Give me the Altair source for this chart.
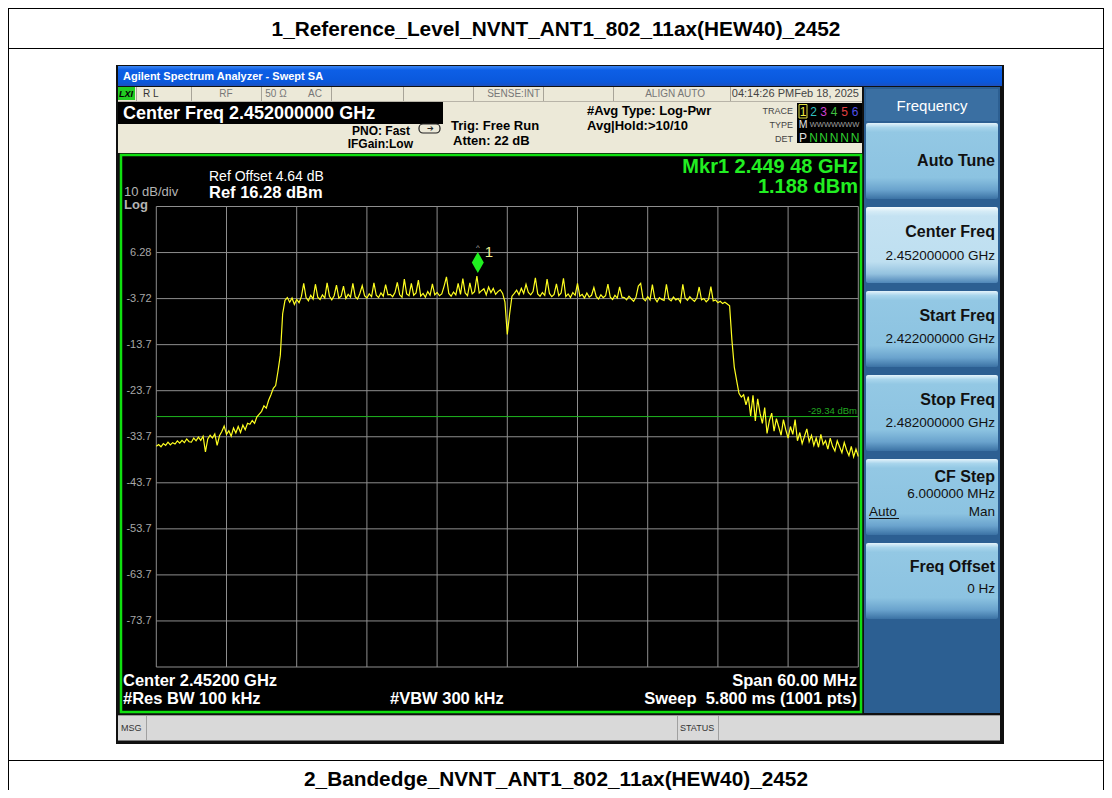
import altair as alt
import pandas as pd

OFF = 8  # page margin
SANS = "Liberation Sans, Arial, Helvetica, sans-serif"

# ---------------- data ----------------
F_START_GHZ = 2.422
F_STEP_GHZ = 0.0002   # sweep-point spacing used for the hand-read trace
level_dbm = [
    -35.8, -35.4, -35.9, -35.2, -35.6, -34.9, -35.5, -35.0, -35.3, -34.6,
    -35.1, -34.5, -35.0, -34.2, -34.8, -34.9, -34.0, -34.6, -33.8, -34.5,
    -33.6, -37.0, -34.2, -33.4, -34.0, -33.1, -35.6, -33.5, -32.6, -31.4,
    -33.2, -32.4, -33.6, -31.8, -32.9, -31.5, -32.8, -31.2, -32.2, -30.8,
    -31.0, -30.2, -30.8, -29.4, -28.8, -28.2, -27.0, -27.5, -25.8, -24.6,
    -23.2, -22.6, -19.5, -16.0, -7.0, -4.1, -3.5, -4.5, -3.6, -5.0,
    -3.9, -4.6, -3.3, -0.4, -3.5, -4.2, -3.0, -3.8, -0.6, -3.4,
    -3.9, -2.9, -3.6, -0.3, -3.2, -4.0, -3.1, -0.8, -3.6, -3.2,
    -1.0, -3.7, -2.8, -3.4, -0.4, -3.3, -3.8, -2.6, -0.9, -3.1,
    -3.6, -2.7, -3.3, -0.3, -3.0, -3.5, -2.5, -3.2, -0.7, -2.9,
    -2.8, -3.3, -2.4, -0.2, -2.9, -3.4, 0.5, -2.7, -3.1, -0.4,
    -3.0, -2.5, 0.3, -3.2, -2.6, -3.4, -2.2, -3.0, -0.5, -2.9,
    -2.4, -3.1, -2.7, -1.0, 1.0, -2.6, -3.2, -2.3, -2.9, -0.4,
    -2.8, 0.6, -2.5, -3.1, -0.3, -2.7, -2.2, 1.19, -2.5, -2.0,
    -1.6, -2.9, -1.2, -2.4, -1.5, -2.8, -2.2, -1.8, -2.6, -4.5,
    -11.5, -7.0, -3.2, -2.6, -1.9, -2.9, -1.5, -2.6, -0.6, -2.4,
    -2.9, -2.2, 0.8, -2.7, -3.2, -2.4, -3.0, 0.5, -2.6, -3.3,
    -2.8, -0.5, -3.1, -2.5, 0.7, -3.3, -2.7, -3.5, -2.4, -3.0,
    -0.4, -3.2, -2.8, -3.6, -2.5, -3.4, -3.0, -1.3, -3.3, -3.8,
    -2.9, -3.5, -3.1, -0.6, -3.4, -3.9, -3.0, -3.6, -1.2, -3.4,
    -3.5, -4.0, -3.2, -3.8, -4.3, -3.4, -1.0, -0.4, -3.7, -4.2,
    -3.3, -4.0, -0.7, -3.6, -4.4, -3.5, -3.9, -4.1, -0.6, -3.8,
    -4.2, -3.4, -4.0, -3.7, -4.5, -0.6, -3.6, -4.1, -3.3, -3.9,
    -4.3, -3.6, -1.2, -4.0, -3.7, -4.4, -3.9, -1.1, -4.2, -4.0,
    -4.6, -4.3, -4.8, -4.5, -4.9, -5.3, -12.8, -18.6, -21.5, -24.3,
    -25.1, -24.6, -26.8, -25.0, -29.2, -24.7, -30.3, -25.5, -28.6, -30.8,
    -27.4, -33.0, -30.2, -28.6, -32.5, -29.8, -31.6, -33.4, -30.0, -32.2,
    -34.0, -31.5, -33.2, -30.0, -34.6, -32.8, -35.2, -33.6, -32.0, -34.8,
    -33.4, -35.6, -34.0, -36.0, -33.2, -35.4, -34.6, -36.4, -34.0, -35.8,
    -36.8, -34.6, -35.9, -37.2, -35.0, -36.6, -37.8, -35.8, -38.1, -36.4,
    -38.0,
]
freq_ghz = [round(F_START_GHZ + i * F_STEP_GHZ, 5) for i in range(len(level_dbm))]

grid_levels = [16.28, 6.28, -3.72, -13.72, -23.72, -33.72, -43.72, -53.72, -63.72, -73.72, -83.72]
tick_levels = [6.28, -3.72, -13.72, -23.72, -33.72, -43.72, -53.72, -63.72, -73.72]
tick_labels = ["6.28", "-3.72", "-13.7", "-23.7", "-33.7", "-43.7", "-53.7", "-63.7", "-73.7"]
grid_freqs = [2.422, 2.428, 2.434, 2.440, 2.446, 2.452, 2.458, 2.464, 2.470, 2.476, 2.482]

mkr_freq = [2.44948]
mkr_level = [1.188]
display_line = [-29.34]

trace_df = pd.DataFrame({"freq": freq_ghz, "level": level_dbm})
hgrid_df = pd.DataFrame({"level": grid_levels})
vgrid_df = pd.DataFrame({"freq": grid_freqs})
ticks_df = pd.DataFrame({"level": tick_levels, "label": tick_labels})
mkr_df = pd.DataFrame({"freq": mkr_freq, "level": mkr_level})
dl_df = pd.DataFrame({"level": display_line})

# ---------------- scales (grid area of the analyzer screen) ----------------
XS = alt.Scale(domain=[2.422, 2.482], range=[156.3 - OFF, 858.3 - OFF], nice=False, zero=False)
YS = alt.Scale(domain=[-83.72, 16.28], range=[667.0 - OFF, 206.5 - OFF], nice=False, zero=False)

ONE = pd.DataFrame({"k": [0]})
layers = []


def box(x1, y1, x2, y2, fill, stroke=None, sw=1.0, radius=0):
    kw = {"fill": fill}
    if stroke:
        kw["stroke"] = stroke
        kw["strokeWidth"] = sw
    if radius:
        kw["cornerRadius"] = radius
    layers.append(
        alt.Chart(ONE).mark_rect(**kw).encode(
            x=alt.value(x1 - OFF), x2=alt.value(x2 - OFF),
            y=alt.value(y1 - OFF), y2=alt.value(y2 - OFF))
    )


def hline(x1, x2, y, color, w=1.0):
    layers.append(
        alt.Chart(ONE).mark_rule(color=color, strokeWidth=w).encode(
            x=alt.value(x1 - OFF), x2=alt.value(x2 - OFF), y=alt.value(y - OFF))
    )


def vline(x, y1, y2, color, w=1.0):
    layers.append(
        alt.Chart(ONE).mark_rule(color=color, strokeWidth=w).encode(
            x=alt.value(x - OFF), y=alt.value(y1 - OFF), y2=alt.value(y2 - OFF))
    )


def label(s, x, y, size=12, color="#000000", bold=False, align="left", italic=False, font=SANS):
    kw = dict(text=s, fontSize=size, color=color, align=align, baseline="middle", font=font)
    if bold:
        kw["fontWeight"] = "bold"
    if italic:
        kw["fontStyle"] = "italic"
    layers.append(
        alt.Chart(ONE).mark_text(**kw).encode(x=alt.value(x - OFF), y=alt.value(y - OFF))
    )


def grad(stops):
    return alt.Gradient(
        gradient="linear",
        stops=[alt.GradientStop(offset=o, color=c) for o, c in stops],
        x1=0, x2=0, y1=0, y2=1,
    )


# ---------------- page frame + titles ----------------
vline(8.5, 8, 798, "#000000")
vline(1103.5, 8, 798, "#000000")
hline(8, 1104, 8.5, "#000000")
hline(8, 1104, 48.5, "#000000")
hline(8, 1104, 760.5, "#000000")
label("1_Reference_Level_NVNT_ANT1_802_11ax(HEW40)_2452", 556, 30, 20.8, bold=True, align="center")
label("2_Bandedge_NVNT_ANT1_802_11ax(HEW40)_2452", 556, 780, 20.8, bold=True, align="center")

# ---------------- analyzer window ----------------
box(116, 65, 1004, 744, "#101010")
box(118, 66, 1002, 86, grad([(0, "#3c86f2"), (0.2, "#0d5fe6"), (0.8, "#0a58dc"), (1, "#1a50c0")]))
label("Agilent Spectrum Analyzer - Swept SA", 123, 76.5, 11, "#ffffff", bold=True)

# status row + info area (beige)
box(118, 87, 862, 153, "#ece9d8")
hline(118, 862, 101.5, "#b8b4a8")
for sx in [136, 191, 261, 331, 403, 473, 543, 613, 730]:
    vline(sx + 0.5, 87, 101, "#a8a498")
box(118, 87, 135, 100, "#22cc22")
label("LXI", 119, 94, 9, "#000000", bold=True, italic=True)
label("R L", 143, 94, 10, "#333333")
label("RF", 226, 94, 10, "#777777", align="center")
label("50 Ω", 276, 94, 10, "#777777", align="center")
label("AC", 315, 94, 10, "#777777", align="center")
label("SENSE:INT", 540, 94, 10, "#777777", align="right")
label("ALIGN AUTO", 705, 94, 10, "#777777", align="right")
label("04:14:26 PMFeb 18, 2025", 859, 94, 11, "#444444", align="right")

# Center freq black bar
box(118, 102, 443, 124, "#000000")
label("Center Freq 2.452000000 GHz", 123, 113.5, 18, "#ffffff", bold=True)

label("PNO: Fast", 410, 131, 12, "#000000", bold=True, align="right")
label("IFGain:Low", 413, 144, 12, "#000000", bold=True, align="right")
box(419, 124, 440, 133, "#ece9d8", stroke="#222222", sw=1.2, radius=4)
label("➔", 430, 129, 8, "#222222", align="center")
label("Trig: Free Run", 451, 126, 13, "#000000", bold=True)
label("Atten: 22 dB", 453, 141, 13, "#000000", bold=True)
label("#Avg Type: Log-Pwr", 587, 111, 13, "#000000", bold=True)
label("Avg|Hold:>10/10", 587, 125.5, 13, "#000000", bold=True)

# trace box
label("TRACE", 793, 111, 9, "#444444", align="right")
label("TYPE", 793, 125, 9, "#444444", align="right")
label("DET", 793, 138.5, 9, "#444444", align="right")
box(797, 103, 862, 143, "#000000")
box(799, 104.5, 807, 118, "#000000", stroke="#e0e040", sw=1)
digit_cols = ["#f0f040", "#30c0c0", "#d040d0", "#40c040", "#e04040", "#5050e8"]
digit_x = [803, 813.5, 823.5, 834, 844.5, 855]
for i, (dx, dc) in enumerate(zip(digit_x, digit_cols)):
    label(str(i + 1), dx, 111.5, 12, dc, align="center")
label("M", 803, 125, 10.5, "#e0e0e0", align="center")
label("WWWWWWW", 834.5, 125, 7.5, "#a0a0a0", align="center")
label("P", 803, 137.5, 12, "#e0e0e0", align="center")
for dx in digit_x[1:]:
    label("N", dx, 137.5, 12, "#30d030", align="center")

# ---------------- right softkey panel ----------------
box(864, 87, 1000, 713, "#2c5f92")
box(866, 89, 998, 121, "#3a6fa2")
label("Frequency", 932, 105.5, 15, "#ffffff", align="center")

normal = grad([(0, "#e4f3fb"), (0.06, "#a8d5ec"), (0.12, "#93c8e4"), (0.72, "#8cc3e1"),
               (0.88, "#6aa3cd"), (1, "#3b72a4")])
light = grad([(0, "#f4fafd"), (0.06, "#d4ebf6"), (0.12, "#c4e2f2"), (0.72, "#bedff0"),
              (0.88, "#94c2df"), (1, "#4f86b8")])
btn_tops = [123, 207, 291, 375, 459, 543]
for i, t in enumerate(btn_tops):
    box(866, t, 998, t + 76, light if i == 1 else normal, radius=2)

label("Auto Tune", 995, 161, 16, "#111111", bold=True, align="right")
label("Center Freq", 995, 232, 16, "#111111", bold=True, align="right")
label("2.452000000 GHz", 995, 255.5, 13.5, "#111111", align="right")
label("Start Freq", 995, 315.5, 16, "#111111", bold=True, align="right")
label("2.422000000 GHz", 995, 339, 13.5, "#111111", align="right")
label("Stop Freq", 995, 399.5, 16, "#111111", bold=True, align="right")
label("2.482000000 GHz", 995, 422.5, 13.5, "#111111", align="right")
label("CF Step", 995, 476.5, 16, "#111111", bold=True, align="right")
label("6.000000 MHz", 995, 494, 13.5, "#111111", align="right")
label("Auto", 869, 511.5, 13.5, "#111111")
hline(869, 899, 518.5, "#111111", 1)
label("Man", 995, 511.5, 13.5, "#111111", align="right")
label("Freq Offset", 995, 566.5, 16, "#111111", bold=True, align="right")
label("0 Hz", 995, 589, 13.5, "#111111", align="right")

# ---------------- bottom message bar ----------------
box(118, 715, 1000, 741, "#d9d9d9")
hline(118, 1000, 715.5, "#9a9a9a")
hline(118, 1000, 740.5, "#777777")
vline(146.5, 716, 740, "#a0a0a0")
vline(677.5, 716, 740, "#a0a0a0")
vline(718.5, 716, 740, "#a0a0a0")
label("MSG", 121, 727.5, 9, "#333333")
label("STATUS", 680, 727.5, 9, "#333333")

# ---------------- measurement screen ----------------
box(121, 155, 861, 712, "#000000", stroke="#10e010", sw=2.5)

# graticule
layers.append(
    alt.Chart(hgrid_df).mark_rule(color="#8e8e8e", strokeWidth=1).encode(
        y=alt.Y("level:Q", scale=YS, axis=None),
        x=alt.value(156.3 - OFF), x2=alt.value(858.3 - OFF))
)
layers.append(
    alt.Chart(vgrid_df).mark_rule(color="#8e8e8e", strokeWidth=1).encode(
        x=alt.X("freq:Q", scale=XS, axis=None),
        y=alt.value(206.5 - OFF), y2=alt.value(667.0 - OFF))
)
layers.append(
    alt.Chart(ticks_df).mark_text(align="right", baseline="middle", fontSize=11,
                                  color="#a8a8a8", font=SANS).encode(
        y=alt.Y("level:Q", scale=YS, axis=None),
        x=alt.value(151.5 - OFF), text="label:N")
)

# display line
layers.append(
    alt.Chart(dl_df).mark_rule(color="#1fb81f", strokeWidth=1).encode(
        y=alt.Y("level:Q", scale=YS, axis=None),
        x=alt.value(156.3 - OFF), x2=alt.value(858.3 - OFF))
)
layers.append(
    alt.Chart(dl_df).mark_text(align="right", baseline="middle", fontSize=9.5, dy=-5.5,
                               color="#22a822", font=SANS).encode(
        y=alt.Y("level:Q", scale=YS, axis=None),
        x=alt.value(857 - OFF), text=alt.value("-29.34 dBm"))
)

# trace
layers.append(
    alt.Chart(trace_df).mark_line(color="#ffff20", strokeWidth=1.2, interpolate="linear").encode(
        x=alt.X("freq:Q", scale=XS, axis=None),
        y=alt.Y("level:Q", scale=YS, axis=None))
)

# marker
layers.append(
    alt.Chart(mkr_df).mark_point(shape="M0,-24L6,-13.5L0,-3L-6,-13.5Z", size=4, filled=True,
                                 color="#20f020", opacity=1).encode(
        x=alt.X("freq:Q", scale=XS, axis=None),
        y=alt.Y("level:Q", scale=YS, axis=None))
)
layers.append(
    alt.Chart(mkr_df).mark_text(align="left", baseline="middle", fontSize=15, dx=7, dy=-24,
                                color="#eeee90", font=SANS).encode(
        x=alt.X("freq:Q", scale=XS, axis=None),
        y=alt.Y("level:Q", scale=YS, axis=None), text=alt.value("1"))
)
layers.append(
    alt.Chart(mkr_df).mark_text(align="center", baseline="middle", fontSize=8, dy=-28,
                                color="#b0b0b0", font=SANS).encode(
        x=alt.X("freq:Q", scale=XS, axis=None),
        y=alt.Y("level:Q", scale=YS, axis=None), text=alt.value("^"))
)

# screen annotations
label("Ref Offset 4.64 dB", 209, 177, 14, "#ffffff")
label("Ref 16.28 dBm", 209, 192.5, 16.5, "#ffffff", bold=True)
label("10 dB/div", 124, 192, 13, "#b4b4b4")
label("Log", 124, 205, 13, "#b4b4b4", bold=True)
label("Mkr1 2.449 48 GHz", 858, 166.5, 20, "#22ee22", bold=True, align="right")
label("1.188 dBm", 858, 186.5, 20, "#22ee22", bold=True, align="right")
label("Center 2.45200 GHz", 123, 680.5, 16.5, "#ffffff", bold=True)
label("Span 60.00 MHz", 857, 680.5, 16.5, "#ffffff", bold=True, align="right")
label("#Res BW 100 kHz", 123, 699, 16.5, "#ffffff", bold=True)
label("#VBW 300 kHz", 390, 699, 16.5, "#ffffff", bold=True)
label("Sweep\u00a0\u00a05.800 ms (1001 pts)", 857, 699, 16.5, "#ffffff", bold=True, align="right")

chart = alt.layer(*layers).properties(
    width=1096, height=782, padding=0, autosize="none", background="#ffffff"
).configure_view(stroke=None)

chart.save("out.html", embed_options={"renderer": "svg", "actions": False})
